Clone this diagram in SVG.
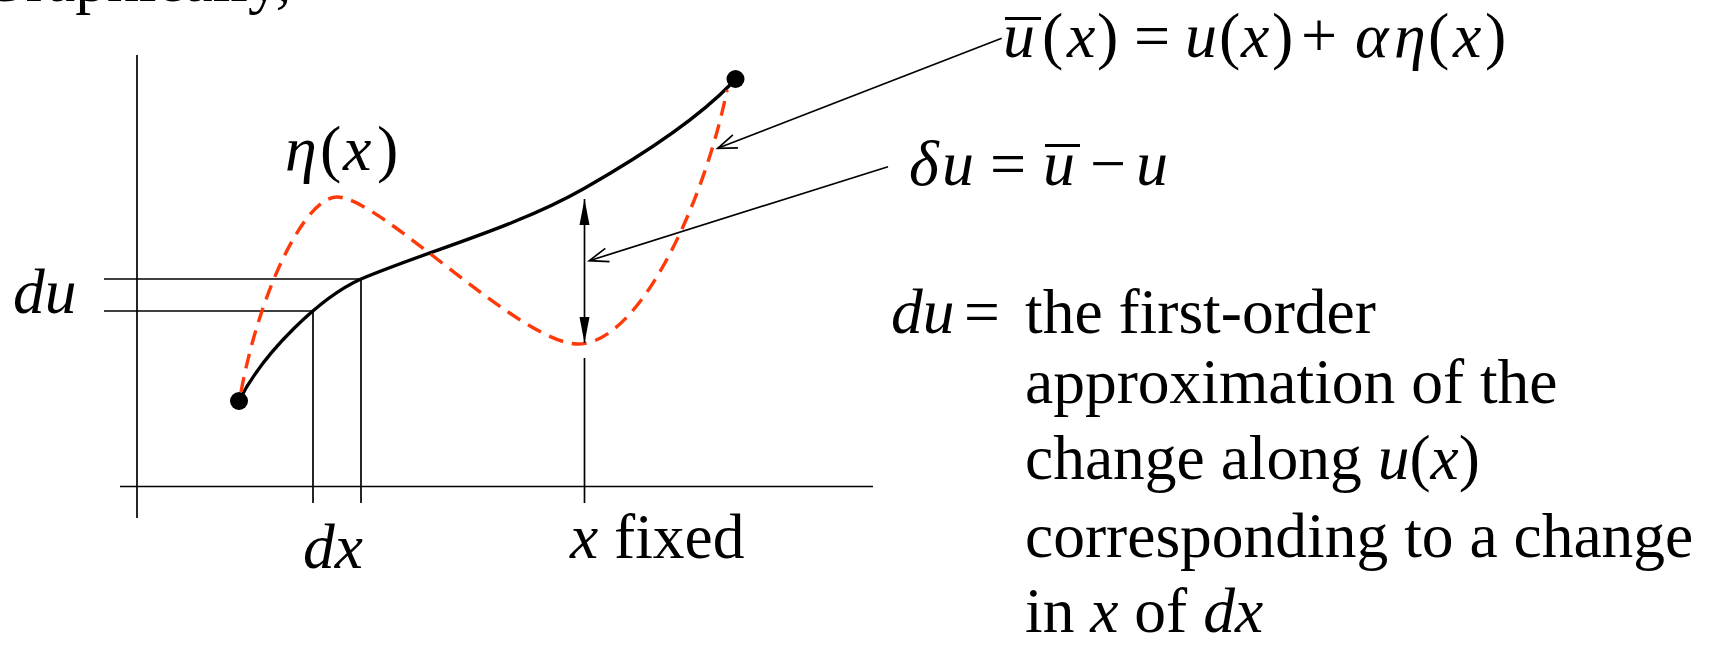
<svg xmlns="http://www.w3.org/2000/svg" width="1713" height="645" viewBox="0 0 1713 645">
<style>
.t{font-family:"Liberation Serif","Times New Roman",serif;font-size:63.5px;fill:#000}
.eq{font-family:"Liberation Serif","Times New Roman",serif;font-size:64px;fill:#000}
.i{font-style:italic}
.thin{stroke:#000;stroke-width:1.7;fill:none}
.curve{stroke:#000;stroke-width:3.3;fill:none;stroke-linecap:round}
.dash{stroke:#FF3A0A;stroke-width:3.4;fill:none;stroke-dasharray:15 9}
.bar{stroke:#000;stroke-width:3}
</style>
<defs>
<marker id="open" markerUnits="userSpaceOnUse" orient="auto" refX="0" refY="0" overflow="visible">
<path d="M-19,-7 L0,0 L-19,7" fill="none" stroke="#000" stroke-width="1.7"/>
</marker>
<marker id="solid" markerUnits="userSpaceOnUse" orient="auto-start-reverse" refX="0" refY="0" overflow="visible">
<path d="M0,0 L-26,-5 L-26,5 Z" fill="#000"/>
</marker>
</defs>
<rect width="1713" height="645" fill="#fff"/>

<text class="t" x="-20" y="1">Graphically,</text>

<g id="axes">
<line class="thin" x1="137" y1="55" x2="137" y2="518"/>
<line class="thin" x1="120" y1="486.5" x2="873" y2="486.5"/>
</g>

<g id="guides">
<line class="thin" x1="104" y1="279" x2="361" y2="279"/>
<line class="thin" x1="104" y1="311" x2="313" y2="311"/>
<line class="thin" x1="313" y1="311" x2="313" y2="503"/>
<line class="thin" x1="361" y1="279" x2="361" y2="503"/>
<line class="thin" x1="584.5" y1="358" x2="584.5" y2="503"/>
</g>

<g id="curve-u">
<path class="curve" d="M239,401 C264,351 321,297 361,279 C430,250 515,228 585,188 S700,116 731,84"/>
</g>
<g id="curve-ubar">
<path class="dash" d="M241,392 C260,290 305,197 337,197 C380,197 520,344 578,344 C640,344 705,200 727,90"/>
</g>
<g id="endpoints">
<circle cx="239" cy="401" r="9" fill="#000"/>
<circle cx="735.5" cy="79" r="9" fill="#000"/>
</g>

<g id="connectors">
<path class="thin" d="M584.5,199 L584.5,343" marker-start="url(#solid)" marker-end="url(#solid)"/>
<path class="thin" d="M1001.7,38.3 L717.7,148.3" marker-end="url(#open)"/>
<path class="thin" d="M888,166.7 L589.3,260.7" marker-end="url(#open)"/>
</g>

<g id="label-eta">
<text class="eq" y="170"><tspan class="i" x="285">η</tspan><tspan x="320">(</tspan><tspan class="i" x="343">x</tspan><tspan x="377">)</tspan></text>
</g>

<g id="label-du-axis">
<text class="t i" x="13" y="313">du</text>
</g>
<g id="label-dx">
<text class="t i" x="303" y="568">dx</text>
</g>
<g id="label-xfixed">
<text class="t" x="570" y="558"><tspan class="i">x</tspan> fixed</text>
</g>

<g id="eq-ubar">
<text class="eq" y="57"><tspan class="i" x="1003">u</tspan><tspan x="1042">(</tspan><tspan class="i" x="1067">x</tspan><tspan x="1097">)</tspan><tspan x="1134">=</tspan><tspan class="i" x="1185">u</tspan><tspan x="1219">(</tspan><tspan class="i" x="1241">x</tspan><tspan x="1272">)</tspan><tspan x="1301">+</tspan><tspan class="i" x="1355">α</tspan><tspan class="i" x="1394">η</tspan><tspan x="1428">(</tspan><tspan class="i" x="1453">x</tspan><tspan x="1485">)</tspan></text>
<line class="bar" x1="1005" y1="18.5" x2="1041" y2="18.5"/>
</g>

<g id="eq-delta">
<text class="eq" y="185"><tspan class="i" x="909">δ</tspan><tspan class="i" x="942">u</tspan><tspan x="990">=</tspan><tspan class="i" x="1043">u</tspan><tspan x="1090">−</tspan><tspan class="i" x="1136">u</tspan></text>
<line class="bar" x1="1045" y1="145.5" x2="1080" y2="145.5"/>
</g>

<g id="definition">
<text class="t" y="333"><tspan class="i" x="891">du</tspan><tspan x="964">=</tspan><tspan x="1025">the first-order</tspan></text>
<text class="t" x="1025" y="403">approximation of the</text>
<text class="t" x="1025" y="479">change along <tspan class="i">u</tspan>(<tspan class="i">x</tspan>)</text>
<text class="t" x="1025" y="557">corresponding to a change</text>
<text class="t" x="1025" y="632">in <tspan class="i">x</tspan> of <tspan class="i">dx</tspan></text>
</g>
</svg>
